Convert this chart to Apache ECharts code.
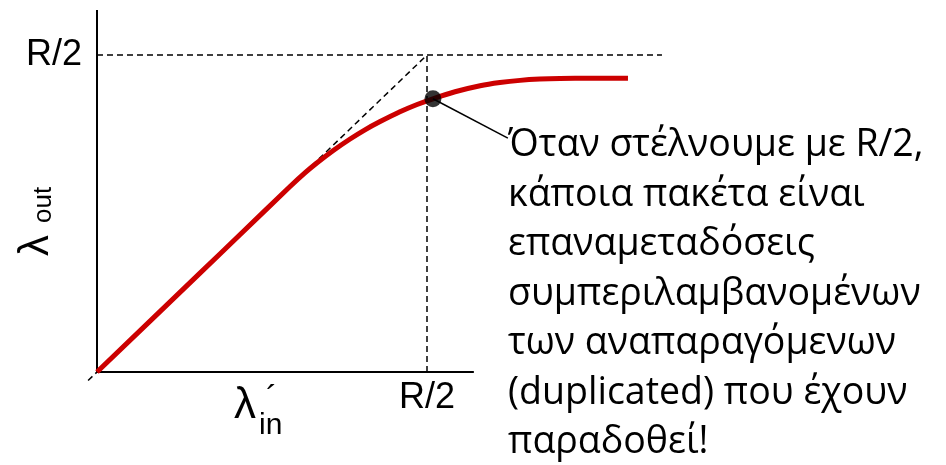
<!DOCTYPE html>
<html><head><meta charset="utf-8">
<script src="https://cdn.jsdelivr.net/npm/echarts@6/dist/echarts.min.js"></script>
<style>html,body{margin:0;padding:0;background:#fff}#c{width:946px;height:465px}</style>
</head><body><div id="c"></div>
<script>
// Throughput curve: offered load λin' vs delivered λout (units of R/2)
const curveX = [0, 0.312, 0.433, 0.585, 0.630, 0.667, 0.715, 0.767, 0.812, 0.858, 0.918, 0.970,
                1.018, 1.085, 1.161, 1.221, 1.282, 1.342, 1.403, 1.494, 1.609];
const curveY = [0, 0.312, 0.433, 0.585, 0.628, 0.660, 0.698, 0.735, 0.764, 0.790, 0.821, 0.844,
                0.862, 0.884, 0.903, 0.913, 0.920, 0.924, 0.926, 0.927, 0.927];
const highlightPoint = [1.018, 0.862];
const calloutEnd = [1.245, 0.738];
const halfRate = 1;             // R/2
const axisEnd = [1.142, 1.142]; // drawn length of the x and y axis lines
const refLineEnd = 1.712;       // end of the horizontal R/2 guide
const tickLabels = ['R/2'];
const noteLines = [
  'Όταν στέλνουμε με R/2,',
  'κάποια πακέτα είναι',
  'επαναμεταδόσεις',
  'συμπεριλαμβανομένων',
  'των αναπαραγόμενων',
  '(duplicated) που έχουν',
  'παραδοθεί!'
];

const chart = echarts.init(document.getElementById('c'), null, {renderer: 'canvas'});
const dash = {color: '#000', width: 1.5, type: [6, 4]};
const solid = (w) => ({color: '#000', width: w, type: 'solid'});
const pair = (xs, ys) => xs.map((x, i) => [x, ys[i]]);
const lineSeries = (data, style, z) => ({
  type: 'line', data, symbol: 'none', lineStyle: style, z: z || 2,
  silent: true, animation: false, clip: false
});

chart.setOption({
  backgroundColor: '#fff',
  animation: false,
  grid: {left: 87.1, top: 10, width: 574.86, height: 371.52},
  xAxis: {
    type: 'value', min: -0.03, max: refLineEnd,
    axisLine: {show: false}, axisTick: {show: false}, splitLine: {show: false},
    axisLabel: {
      customValues: [halfRate], formatter: () => tickLabels[0],
      color: '#000', fontSize: 36, fontFamily: 'Liberation Sans', margin: -1
    }
  },
  yAxis: {
    type: 'value', min: -0.03, max: axisEnd[1],
    axisLine: {show: false}, axisTick: {show: false}, splitLine: {show: false},
    axisLabel: {
      customValues: [halfRate], formatter: () => tickLabels[0],
      color: '#000', fontSize: 36, fontFamily: 'Liberation Sans', margin: 5
    }
  },
  series: [
    // guides at R/2
    lineSeries([[0, halfRate], [refLineEnd, halfRate]], dash, 1),
    lineSeries([[halfRate, 0], [halfRate, halfRate]], dash, 1),
    lineSeries([[-0.027, -0.027], [halfRate, halfRate]], dash, 1),
    // axis lines
    lineSeries([[0, 0], [axisEnd[0], 0]], solid(2), 3),
    lineSeries([[0, 0], [0, axisEnd[1]]], solid(2), 3),
    // delivered throughput
    {
      type: 'line', data: pair(curveX, curveY), smooth: 0.2, symbol: 'none',
      lineStyle: {color: '#cc0000', width: 5, join: 'round', cap: 'butt'},
      z: 4, animation: false, clip: false
    },
    // callout leader
    lineSeries([highlightPoint, calloutEnd], solid(1.5), 5),
    {
      type: 'scatter', data: [highlightPoint], symbol: 'circle', symbolSize: 17,
      itemStyle: {color: '#000'}, z: 6, animation: false
    }
  ],
  graphic: [
    {
      type: 'group', x: 57, y: 256, rotation: Math.PI / 2,
      children: [
        {type: 'text', x: 0, y: 0, style: {text: 'λ', font: '42px "Liberation Sans"', fill: '#000', textAlign: 'left', textVerticalAlign: 'bottom'}},
        {type: 'text', x: 33, y: 0, style: {text: 'out', font: '26px "Liberation Sans"', fill: '#000', textAlign: 'left', textVerticalAlign: 'bottom'}}
      ]
    },
    {type: 'text', x: 234, y: 428, style: {text: 'λ', font: '44px "Liberation Sans"', fill: '#000', textAlign: 'left', textVerticalAlign: 'bottom'}},
    {type: 'text', x: 259, y: 441, style: {text: 'in', font: '30px "Liberation Sans"', fill: '#000', textAlign: 'left', textVerticalAlign: 'bottom'}},
    {type: 'text', x: 266, y: 383, style: {text: '´', font: '34px "Liberation Sans"', fill: '#000', textAlign: 'left', textVerticalAlign: 'top'}},
    {
      type: 'text', x: 508, y: 121,
      style: {
        text: noteLines.join('\n'), font: '37.5px "Open Sans"', lineHeight: 49.5,
        fill: '#000', textAlign: 'left', textVerticalAlign: 'top'
      }
    }
  ]
});
</script>
</body></html>
